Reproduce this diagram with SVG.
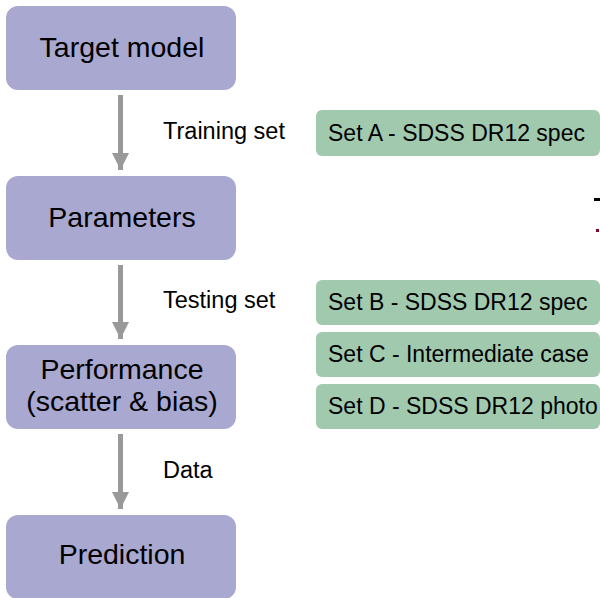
<svg xmlns="http://www.w3.org/2000/svg" width="600" height="598" viewBox="0 0 600 598">
  <style>
    .step rect { fill: #a9a8d0; }
    .step text { font-family: "Liberation Sans", Arial, sans-serif; font-size: 28.5px; fill: #000; text-anchor: middle; }
    .set rect { fill: #a0c9ae; }
    .set text { font-family: "Liberation Sans", Arial, sans-serif; font-size: 23px; fill: #000; }
    .label { font-family: "Liberation Sans", Arial, sans-serif; font-size: 23.5px; fill: #000; }
    .arrow { stroke: #999999; stroke-width: 5; fill: none; }
  </style>
  <defs>
    <marker id="head" markerUnits="userSpaceOnUse" markerWidth="18" markerHeight="24" refX="17" refY="8.5" orient="auto">
      <path d="M0,0 L17,8.5 L0,17 Z" fill="#999999"/>
    </marker>
  </defs>
  <rect width="600" height="598" fill="#ffffff"/>

  <!-- flow connectors -->
  <g id="connectors">
    <line class="arrow" x1="120.5" y1="95" x2="120.5" y2="170" marker-end="url(#head)"/>
    <line class="arrow" x1="120.5" y1="265" x2="120.5" y2="339" marker-end="url(#head)"/>
    <line class="arrow" x1="120.5" y1="434" x2="120.5" y2="509" marker-end="url(#head)"/>
  </g>

  <!-- pipeline steps -->
  <g id="target-model" class="step">
    <rect x="6" y="6" width="230" height="84" rx="12"/>
    <text x="122" y="57">Target model</text>
  </g>
  <g id="parameters" class="step">
    <rect x="6" y="176" width="230" height="84" rx="12"/>
    <text x="122" y="227">Parameters</text>
  </g>
  <g id="performance" class="step">
    <rect x="6" y="345" width="230" height="84" rx="12"/>
    <text x="122" y="379">Performance</text>
    <text x="122" y="411">(scatter &amp; bias)</text>
  </g>
  <g id="prediction" class="step">
    <rect x="6" y="515" width="230" height="84" rx="12"/>
    <text x="122" y="564">Prediction</text>
  </g>

  <!-- edge labels -->
  <g id="edge-labels">
    <text class="label" x="163" y="139">Training set</text>
    <text class="label" x="163" y="308">Testing set</text>
    <text class="label" x="163" y="478">Data</text>
  </g>

  <!-- data sets -->
  <g id="set-a" class="set">
    <rect x="316" y="110" width="284" height="46" rx="6"/>
    <text x="328" y="141">Set A - SDSS DR12 spec</text>
  </g>
  <g id="set-b" class="set">
    <rect x="316" y="280" width="284" height="45" rx="6"/>
    <text x="328" y="310">Set B - SDSS DR12 spec</text>
  </g>
  <g id="set-c" class="set">
    <rect x="316" y="332" width="284" height="45" rx="6"/>
    <text x="328" y="362">Set C - Intermediate case</text>
  </g>
  <g id="set-d" class="set">
    <rect x="316" y="384" width="284" height="45" rx="6"/>
    <text x="328" y="414">Set D - SDSS DR12 photo</text>
  </g>

  <!-- marks at the right border -->
  <rect x="594" y="198" width="6" height="3" fill="#000000"/>
  <rect x="596" y="229" width="3" height="3" fill="#7a0a2a"/>
</svg>
